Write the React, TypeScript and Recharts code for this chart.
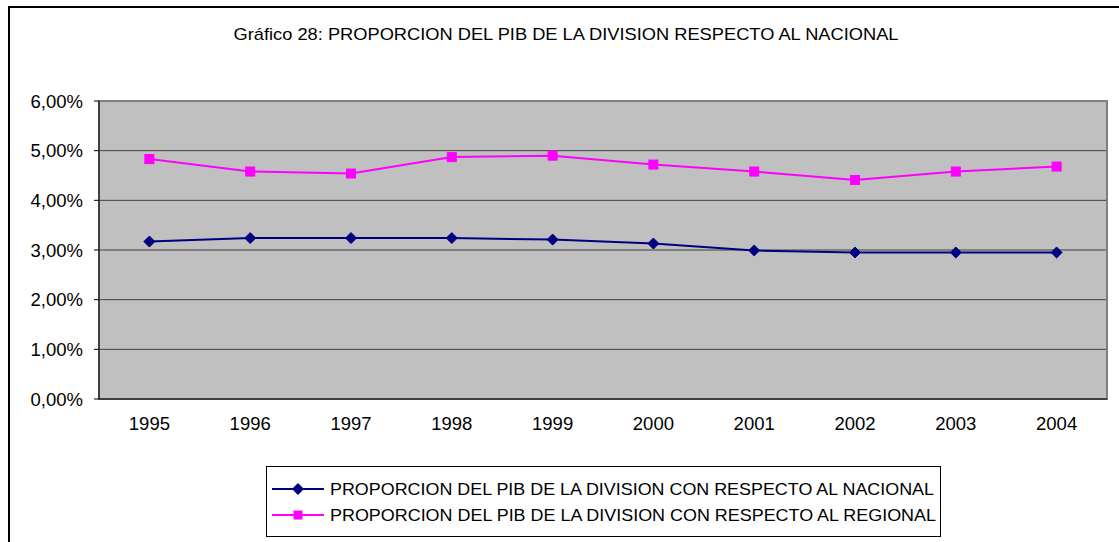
import React from "react";
import { LineChart, Line, XAxis, YAxis, CartesianGrid, ReferenceArea } from "recharts";

const years = ["1995", "1996", "1997", "1998", "1999", "2000", "2001", "2002", "2003", "2004"];
const nacional = [0.0317, 0.0324, 0.0324, 0.0324, 0.0321, 0.0313, 0.0299, 0.0295, 0.0295, 0.0295];
const regional = [0.0483, 0.0458, 0.0454, 0.0487, 0.049, 0.0472, 0.0458, 0.0441, 0.0458, 0.0468];
const yTicks = [0, 0.01, 0.02, 0.03, 0.04, 0.05, 0.06];
const gridValues = [0.01, 0.02, 0.03, 0.04, 0.05];
const boundaryTicks = [0, 1, 2, 3, 4, 5, 6, 7, 8, 9, 10];
const title = "Gráfico 28: PROPORCION DEL PIB DE LA DIVISION RESPECTO AL NACIONAL";
const nameNacional = "PROPORCION DEL PIB DE LA DIVISION CON RESPECTO AL NACIONAL";
const nameRegional = "PROPORCION DEL PIB DE LA DIVISION CON RESPECTO AL REGIONAL";

const data = years.map((y, i) => ({ year: y, nacional: nacional[i], regional: regional[i] }));

const FONT = "'Liberation Sans', Arial, sans-serif";

const fmt = (v: number) => (v * 100).toFixed(2).replace(".", ",") + "%";

const Diamond = (props: any) => {
  const { cx, cy } = props;
  if (cx == null || cy == null) return null;
  const r = 5.5;
  return <path d={`M${cx},${cy - r}L${cx + r},${cy}L${cx},${cy + r}L${cx - r},${cy}Z`} fill="#000080" stroke="#000080" />;
};

const Square = (props: any) => {
  const { cx, cy } = props;
  if (cx == null || cy == null) return null;
  const r = 4.5;
  return <rect x={cx - r} y={cy - r} width={2 * r} height={2 * r} fill="#FF00FF" stroke="#FF00FF" />;
};

const LegendBox = () => (
  <svg width={676} height={72} style={{ display: "block" }}>
    <rect x={0.5} y={0.5} width={674} height={70} fill="#fff" stroke="#000" />
    <line x1={6} x2={58} y1={23} y2={23} stroke="#000080" strokeWidth={2} />
    <path d="M32,17L38,23L32,29L26,23Z" fill="#000080" />
    <text x={64} y={29} fontFamily={FONT} fontSize={17} textLength={604} lengthAdjust="spacingAndGlyphs" fill="#000">
      {nameNacional}
    </text>
    <line x1={6} x2={58} y1={49} y2={49} stroke="#FF00FF" strokeWidth={2} />
    <rect x={27.5} y={44.5} width={9} height={9} fill="#FF00FF" />
    <text x={64} y={55} fontFamily={FONT} fontSize={17} textLength={606} lengthAdjust="spacingAndGlyphs" fill="#000">
      {nameRegional}
    </text>
  </svg>
);

export default function App() {
  return (
    <div style={{ position: "absolute", left: 0, top: 0, width: 1119, height: 542, background: "#fff", overflow: "hidden" }}>
      <div style={{ position: "absolute", left: 8, top: 6, width: 1200, height: 600, border: "2px solid #000", boxSizing: "border-box" }} />
      <svg style={{ position: "absolute", left: 0, top: 0 }} width={1119} height={60}>
        <text x={566} y={40} textAnchor="middle" fontFamily={FONT} fontSize={17} textLength={665} lengthAdjust="spacingAndGlyphs" fill="#000">
          {title}
        </text>
      </svg>
      <div style={{ position: "absolute", left: 0, top: 0 }}>
        <LineChart width={1119} height={542} data={data} margin={{ top: 101, right: 12, bottom: 113, left: 0 }}>
          <CartesianGrid xAxisId="cat" fill="#C0C0C0" vertical={false} horizontalValues={gridValues} stroke="#404040" strokeOpacity={1} />
          <ReferenceArea xAxisId="cat" y1={0} y2={0.06} fill="none" stroke="#808080" strokeWidth={2} ifOverflow="visible" />
          <XAxis
            xAxisId="bnd"
            type="number"
            domain={[0, 10]}
            ticks={boundaryTicks}
            tick={false}
            tickSize={6}
            axisLine={false}
            tickLine={{ stroke: "#000" }}
            height={0}
            allowDataOverflow
          />
          <XAxis
            xAxisId="cat"
            dataKey="year"
            scale="band"
            tickLine={false}
            tickSize={0}
            tickMargin={18}
            axisLine={{ stroke: "#000" }}
            height={30}
            tick={{ fill: "#000", fontFamily: FONT, fontSize: 18.5 }}
            interval={0}
          />
          <YAxis
            width={99}
            domain={[0, 0.06]}
            ticks={yTicks}
            tickFormatter={fmt}
            tickSize={5}
            tickMargin={11}
            axisLine={{ stroke: "#000" }}
            tickLine={{ stroke: "#000" }}
            tick={{ fill: "#000", fontFamily: FONT, fontSize: 18.5 }}
            interval={0}
          />
          <Line
            xAxisId="cat"
            dataKey="nacional"
            name={nameNacional}
            stroke="#000080"
            strokeWidth={2}
            dot={<Diamond />}
            activeDot={false}
            isAnimationActive={false}
          />
          <Line
            xAxisId="cat"
            dataKey="regional"
            name={nameRegional}
            stroke="#FF00FF"
            strokeWidth={2}
            dot={<Square />}
            activeDot={false}
            isAnimationActive={false}
          />
        </LineChart>
      </div>
      <div style={{ position: "absolute", left: 266, top: 466 }}>
        <LegendBox />
      </div>
    </div>
  );
}
